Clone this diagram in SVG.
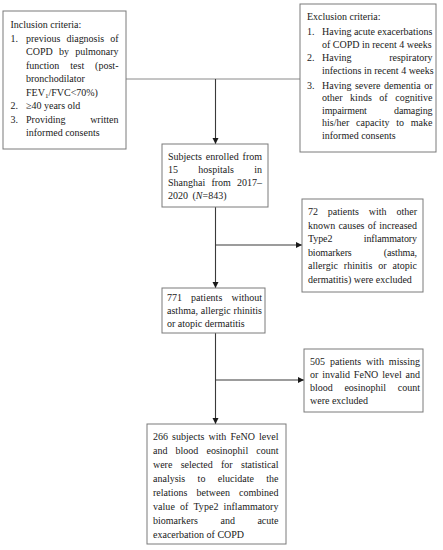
<svg xmlns="http://www.w3.org/2000/svg" width="443" height="550" viewBox="0 0 443 550">
<style>
.box{fill:#ffffff;stroke:#7a7a7a;stroke-width:1}
text{font-family:"Liberation Serif","Times New Roman",serif;font-size:10px;fill:#1a1a1a}
.c{fill:none;stroke:#3a3a3a;stroke-width:1.1}
.c2{fill:none;stroke:#8a8a8a;stroke-width:1}
</style>
<defs>
<marker id="ah" markerUnits="userSpaceOnUse" markerWidth="8" markerHeight="8" refX="6" refY="3" orient="auto">
<path d="M0,0 L6,3 L0,6 Z" fill="#1a1a1a"/>
</marker>
</defs>
<rect width="443" height="550" fill="#ffffff"/>

<g id="connectors">
<path class="c2" d="M126,79 H300"/>
<path class="c" d="M215.5,79 V144" marker-end="url(#ah)"/>
<path class="c" d="M215.5,207 V288" marker-end="url(#ah)"/>
<path class="c" d="M215.5,245 H302" marker-end="url(#ah)"/>
<path class="c" d="M215.5,333 V424" marker-end="url(#ah)"/>
<path class="c" d="M215.5,380 H304" marker-end="url(#ah)"/>
</g>

<g id="inclusion">
<rect class="box" x="3" y="11" width="123" height="138"/>
<text x="10.5" y="27.5">Inclusion criteria:</text>
<text x="10.5" y="41.5">1.</text>
<text x="26" y="41.5" textLength="92.5" lengthAdjust="spacing" word-spacing="3.5">previous diagnosis of</text>
<text x="26" y="55" textLength="92.5" lengthAdjust="spacing" word-spacing="3.8">COPD by pulmonary</text>
<text x="26" y="68.5" textLength="92.5" lengthAdjust="spacing" word-spacing="8.4">function test (post-</text>
<text x="26" y="82">bronchodilator</text>
<text x="26" y="95.5">FEV<tspan font-size="7" dy="2">1</tspan><tspan dy="-2">/FVC&lt;70%)</tspan></text>
<text x="10.5" y="109">2.</text>
<text x="26" y="109">≥40 years old</text>
<text x="10.5" y="122.5">3.</text>
<text x="26" y="122.5" textLength="92.5" lengthAdjust="spacing" word-spacing="22.2">Providing written</text>
<text x="26" y="135.5">informed consents</text>
</g>

<g id="exclusion">
<rect class="box" x="300" y="4" width="136" height="148"/>
<text x="307" y="20">Exclusion criteria:</text>
<text x="307" y="34.5">1.</text>
<text x="322" y="34.5" textLength="110.5" lengthAdjust="spacing">Having acute exacerbations</text>
<text x="322" y="47.5">of COPD in recent 4 weeks</text>
<text x="307" y="61">2.</text>
<text x="322" y="61" textLength="110.5" lengthAdjust="spacing" word-spacing="35.2">Having respiratory</text>
<text x="322" y="74">infections in recent 4 weeks</text>
<text x="307" y="88.5">3.</text>
<text x="322" y="88.5" textLength="110.5" lengthAdjust="spacing" word-spacing="1">Having severe dementia or</text>
<text x="322" y="101" textLength="110.5" lengthAdjust="spacing" word-spacing="5">other kinds of cognitive</text>
<text x="322" y="113.5" textLength="110.5" lengthAdjust="spacing" word-spacing="25">impairment damaging</text>
<text x="322" y="126" textLength="110.5" lengthAdjust="spacing" word-spacing="4.3">his/her capacity to make</text>
<text x="322" y="138.5">informed consents</text>
</g>

<g id="enrolled">
<rect class="box" x="162" y="144" width="106" height="63"/>
<text x="168" y="159.5" textLength="94" lengthAdjust="spacing" word-spacing="1.4">Subjects enrolled from</text>
<text x="168" y="172.5" textLength="94" lengthAdjust="spacing" word-spacing="17.8">15 hospitals in</text>
<text x="168" y="185.5" textLength="94" lengthAdjust="spacing" word-spacing="3.6">Shanghai from 2017–</text>
<text x="168" y="198.5" word-spacing="2">2020 (<tspan font-style="italic">N</tspan>=843)</text>
</g>

<g id="excluded72">
<rect class="box" x="302" y="199" width="121" height="93"/>
<text x="308" y="215.25" textLength="109" lengthAdjust="spacing" word-spacing="7.3">72 patients with other</text>
<text x="308" y="228.75" textLength="109" lengthAdjust="spacing" word-spacing="0.7">known causes of increased</text>
<text x="308" y="242.25" textLength="109" lengthAdjust="spacing" word-spacing="29">Type2 inflammatory</text>
<text x="308" y="255.75" textLength="109" lengthAdjust="spacing" word-spacing="29.8">biomarkers (asthma,</text>
<text x="308" y="269.25" textLength="109" lengthAdjust="spacing" word-spacing="3.4">allergic rhinitis or atopic</text>
<text x="308" y="282.75">dermatitis) were excluded</text>
</g>

<g id="remaining771">
<rect class="box" x="162" y="288" width="103" height="45"/>
<text x="167" y="301" textLength="95" lengthAdjust="spacing" word-spacing="6.6">771 patients without</text>
<text x="167" y="314" textLength="95" lengthAdjust="spacing" word-spacing="0.4">asthma, allergic rhinitis</text>
<text x="167" y="327">or atopic dermatitis</text>
</g>

<g id="excluded505">
<rect class="box" x="304" y="349" width="119" height="63"/>
<text x="310" y="364.5" textLength="110" lengthAdjust="spacing" word-spacing="2.5">505 patients with missing</text>
<text x="310" y="377.5" textLength="110" lengthAdjust="spacing" word-spacing="1.4">or invalid FeNO level and</text>
<text x="310" y="390.5" textLength="110" lengthAdjust="spacing" word-spacing="9.1">blood eosinophil count</text>
<text x="310" y="403.5">were excluded</text>
</g>

<g id="final266">
<rect class="box" x="147" y="424" width="139" height="120"/>
<text x="153" y="439.5" textLength="125.5" lengthAdjust="spacing" word-spacing="1.6">266 subjects with FeNO level</text>
<text x="153" y="453.5" textLength="125.5" lengthAdjust="spacing" word-spacing="5.6">and blood eosinophil count</text>
<text x="153" y="467.5" textLength="125.5" lengthAdjust="spacing" word-spacing="5.9">were selected for statistical</text>
<text x="153" y="481.5" textLength="125.5" lengthAdjust="spacing" word-spacing="9.9">analysis to elucidate the</text>
<text x="153" y="495.5" textLength="125.5" lengthAdjust="spacing" word-spacing="6.6">relations between combined</text>
<text x="153" y="509.5" textLength="125.5" lengthAdjust="spacing" word-spacing="2.6">value of Type2 inflammatory</text>
<text x="153" y="523.5" textLength="125.5" lengthAdjust="spacing" word-spacing="20">biomarkers and acute</text>
<text x="153" y="537.5">exacerbation of COPD</text>
</g>
</svg>
